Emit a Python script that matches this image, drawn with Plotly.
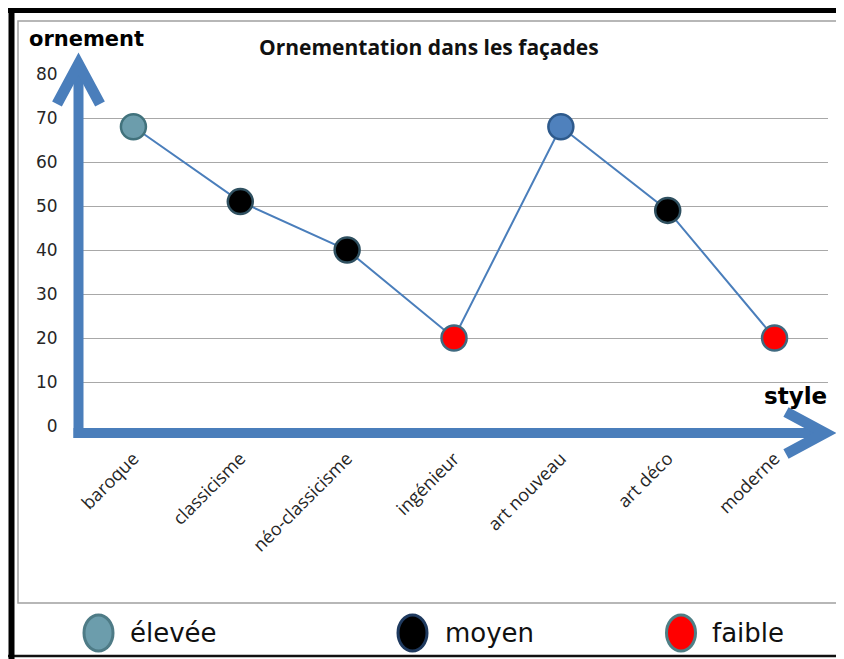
import plotly.graph_objects as go

# ---- data ----
styles = ["baroque", "classicisme", "néo-classicisme", "ingénieur",
          "art nouveau", "art déco", "moderne"]
ornement = [68, 51, 40, 20, 68, 49, 20]
niveaux = ["élevée", "moyen", "moyen", "faible", "élevée", "moyen", "faible"]
y_ticks = [0, 10, 20, 30, 40, 50, 60, 70, 80]
legend_labels = ["élevée", "moyen", "faible"]

# ---- styles ----
marker_fill = ["#6C9DAC", "#000000", "#000000", "#FF0000", "#4F81BD", "#000000", "#FF0000"]
marker_line = ["#41727C", "#2F5060", "#2F5060", "#3F6A80", "#2E5A8C", "#2F5060", "#3F6A80"]
legend_fill = ["#6C9DAC", "#000000", "#FF0000"]
legend_line = ["#4E7B86", "#1F3A5F", "#4E7F86"]
BLUE = "#4A7EBB"

# the page body has an 8px margin: the figure starts at (8, 8) of the window
OFF = 8
WIN_W, WIN_H = 844, 659
W, H = WIN_W - OFF, WIN_H - OFF
L, R, T, B = 80, 828, 74, 426   # plot area in window pixels


def X(px):
    return (px - L) / (R - L)


def Y(py):
    return (B - py) / (B - T)


fig = go.Figure()
fig.add_trace(go.Scatter(
    x=styles, y=ornement, mode="lines+markers",
    line=dict(color=BLUE, width=2),
    marker=dict(size=25, color=marker_fill,
                line=dict(color=marker_line, width=2.5)),
    cliponaxis=False, showlegend=False, hoverinfo="x+y"))

shapes = []
# frame
shapes.append(dict(type="rect", xref="paper", yref="paper",
                   x0=X(18), x1=X(840), y0=Y(603), y1=Y(21),
                   line=dict(color="#A0A0A0", width=1.5), layer="below"))
shapes.append(dict(type="line", xref="paper", yref="paper",
                   x0=X(840), x1=X(840), y0=Y(603), y1=Y(657),
                   line=dict(color="#909090", width=1.5)))
shapes.append(dict(type="line", xref="paper", yref="paper",
                   x0=X(8), x1=X(841), y0=Y(656), y1=Y(656),
                   line=dict(color="#111111", width=2.5)))
shapes.append(dict(type="line", xref="paper", yref="paper",
                   x0=X(8), x1=X(844), y0=Y(10.5), y1=Y(10.5),
                   line=dict(color="#000000", width=5)))
shapes.append(dict(type="line", xref="paper", yref="paper",
                   x0=X(11.5), x1=X(11.5), y0=Y(8), y1=Y(659),
                   line=dict(color="#000000", width=6)))
# axis arrows
shapes.append(dict(type="line", xref="paper", yref="paper",
                   x0=X(78.5), x1=X(78.5), y0=Y(438), y1=Y(70),
                   line=dict(color=BLUE, width=10)))
shapes.append(dict(type="path", xref="paper", yref="paper",
                   path=f"M {X(57)},{Y(104)} L {X(78.5)},{Y(64)} L {X(100)},{Y(104)}",
                   line=dict(color=BLUE, width=11)))
shapes.append(dict(type="line", xref="paper", yref="paper",
                   x0=X(73.5), x1=X(820), y0=Y(433), y1=Y(433),
                   line=dict(color=BLUE, width=10)))
shapes.append(dict(type="path", xref="paper", yref="paper",
                   path=f"M {X(786)},{Y(412)} L {X(825)},{Y(433)} L {X(786)},{Y(454)}",
                   line=dict(color=BLUE, width=11)))

# legend swatches + labels
legend_cx = [98.5, 412.5, 681]
legend_tx = [128, 443, 710]
annotations = []
for cx, tx, lab, fc, lc in zip(legend_cx, legend_tx, legend_labels, legend_fill, legend_line):
    shapes.append(dict(type="circle", xref="paper", yref="paper",
                       x0=X(cx - 14.5), x1=X(cx + 14.5), y0=Y(651), y1=Y(615),
                       fillcolor=fc, line=dict(color=lc, width=3)))
    annotations.append(dict(text=lab, xref="paper", yref="paper",
                            x=X(tx), y=Y(633), xanchor="left", yanchor="middle",
                            showarrow=False,
                            font=dict(family="DejaVu Sans", size=26, color="#111111")))

annotations.append(dict(text="Ornementation dans les façades", xref="paper", yref="paper",
                        x=X(429), y=Y(47), xanchor="center", yanchor="middle",
                        showarrow=False,
                        font=dict(family="Open Sans", size=21, color="#111111", weight="bold")))
annotations.append(dict(text="<b>ornement</b>", xref="paper", yref="paper",
                        x=X(27), y=Y(39), xanchor="left", yanchor="middle",
                        showarrow=False,
                        font=dict(family="DejaVu Sans", size=21, color="#000000")))
annotations.append(dict(text="<b>style</b>", xref="paper", yref="paper",
                        x=X(829), y=Y(396), xanchor="right", yanchor="middle",
                        showarrow=False,
                        font=dict(family="DejaVu Sans", size=23, color="#000000")))

fig.update_layout(
    width=W, height=H,
    margin=dict(l=L - OFF, r=WIN_W - R, t=T - OFF, b=WIN_H - B),
    paper_bgcolor="white", plot_bgcolor="white",
    showlegend=False,
    shapes=shapes, annotations=annotations,
    xaxis=dict(type="category", range=[-0.5, 6.5], showgrid=False, zeroline=False,
               showline=False, tickangle=-45, ticks="outside", ticklen=14,
               tickcolor="rgba(0,0,0,0)",
               tickfont=dict(family="Open Sans", size=18, color="#262626")),
    yaxis=dict(range=[0, 80], tickvals=y_ticks, showgrid=True, gridcolor="#A8A8A8",
               gridwidth=1, zeroline=False, showline=False,
               ticks="outside", ticklen=18, tickcolor="rgba(0,0,0,0)",
               tickfont=dict(family="DejaVu Sans", size=17, color="#262626")),
)

fig.write_html("out.html")
